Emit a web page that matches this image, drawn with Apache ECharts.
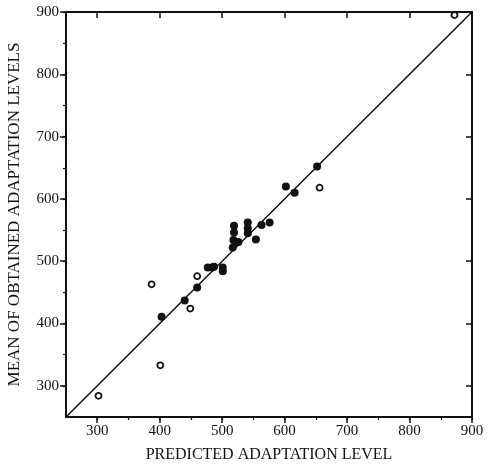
<!DOCTYPE html>
<html>
<head>
<meta charset="utf-8">
<script src="https://cdn.jsdelivr.net/npm/echarts@6/dist/echarts.min.js"></script>
<style>
  html, body { margin: 0; padding: 0; background: #fff; }
  #chart { width: 489px; height: 466px; }
</style>
</head>
<body>
<div id="chart"></div>
<script>
// axis ticks
var majorTicks = [300, 400, 500, 600, 700, 800, 900];
var minorTicks = [300, 350, 400, 450, 500, 550, 600, 650, 700, 750, 800, 850, 900];
var identityLine = [[250, 250], [900, 900]];

// predicted vs obtained, filled dots
var filledPts = [
  [403, 411], [440, 437], [460, 458], [477, 490], [484, 490], [487, 491],
  [501, 490], [501, 484], [517, 522], [519, 557], [519, 546], [518, 534],
  [522, 530], [526, 531], [541, 562], [541, 553], [541, 545], [554, 535],
  [563, 558], [576, 562], [602, 620], [616, 610], [652, 652]
];
// open dots
var openPts = [
  [302, 284], [387, 463], [401, 333], [449, 424], [460, 476], [656, 618], [872, 895]
];

var serif = '"Liberation Serif", "DejaVu Serif", serif';
var chart = echarts.init(document.getElementById('chart'));

function axisBase(pos, showLabel, inside, name) {
  var vert = (pos == 'left');
  return {
    type: 'value', position: pos, min: 250, max: 900, interval: 50,
    name: name || '', nameLocation: 'middle',
    nameGap: pos == 'bottom' ? 30 : 43,
    nameTextStyle: { fontFamily: serif, fontSize: vert ? 17 : 16, color: '#111' },
    axisLine: { show: true, onZero: false, lineStyle: { color: '#111', width: 2 } },
    axisTick: { show: true, inside: inside, length: 6, customValues: majorTicks,
                lineStyle: { color: '#111', width: 1.5 } },
    axisLabel: { show: showLabel, customValues: majorTicks, fontFamily: serif, fontSize: 15,
                 color: '#111', margin: 7 },
    splitLine: { show: false }
  };
}

function minorAxis(pos, inside) {
  return {
    type: 'value', position: pos, min: 250, max: 900, interval: 50,
    axisLine: { show: false },
    axisTick: { show: true, inside: inside, length: 3, customValues: minorTicks,
                lineStyle: { color: '#111', width: 1.2 } },
    axisLabel: { show: false },
    splitLine: { show: false }
  };
}

chart.setOption({
  animation: false,
  grid: { left: 66, right: 17, top: 12, bottom: 49, containLabel: false, outerBoundsMode: 'none' },
  xAxis: [
    axisBase('bottom', true, false, 'PREDICTED ADAPTATION LEVEL'),
    axisBase('top', false, true),
    minorAxis('bottom', false)
  ],
  yAxis: [
    axisBase('left', true, false, 'MEAN OF OBTAINED ADAPTATION LEVELS'),
    axisBase('right', false, true),
    minorAxis('left', false)
  ],
  series: [
    {
      type: 'line', data: identityLine, symbol: 'none',
      lineStyle: { color: '#111', width: 1.5 }, silent: true
    },
    {
      type: 'scatter', data: filledPts, symbol: 'circle', symbolSize: 8,
      itemStyle: { color: '#111', opacity: 1 }
    },
    {
      type: 'scatter', data: openPts, symbol: 'circle', symbolSize: 6,
      itemStyle: { color: '#fff', borderColor: '#111', borderWidth: 1.8, opacity: 1 }
    }
  ]
});
</script>
</body>
</html>
